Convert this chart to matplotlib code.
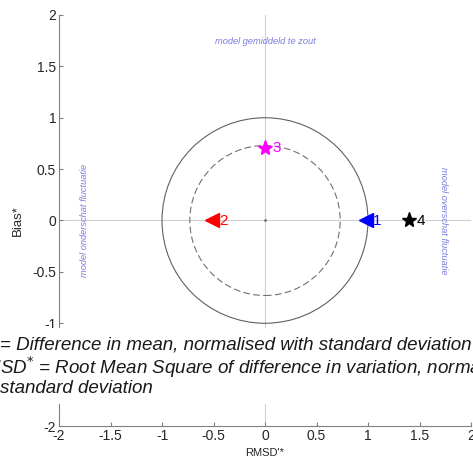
import numpy as np
import matplotlib.pyplot as plt
from matplotlib.patches import Circle, Rectangle

## Data
labels = ['1', '2', '3', '4']
rmsd = [0.98, -0.51, 0.0, 1.40]
bias = [0.0, 0.0, 0.71, 0.0]
markers = ['<', '<', '*', '*']
colors = ['blue', 'red', 'magenta', 'black']

circle_radii = [1.0, 0.73]
circle_styles = ['-', '--']

ticks = [-2, -1.5, -1, -0.5, 0, 0.5, 1, 1.5, 2]
tick_labels = ['-2', '-1.5', '-1', '-0.5', '0', '0.5', '1', '1.5', '2']

## Styles
plt.rcParams['font.family'] = ['Liberation Sans', 'DejaVu Sans']
grey = '#808080'
note_col = '#7b7be0'
note_size = 6.7
expl_size = 13.5

fig = plt.figure(figsize=(4.73, 4.61), dpi=100)
ax = fig.add_axes([59/473, 35/461, 412/473, 411/461])

ax.set_xlim(-2, 2)
ax.set_ylim(-2, 2)

# cross through origin
ax.axhline(0, color='#d0d0d0', lw=0.8, zorder=1)
ax.axvline(0, color='#d0d0d0', lw=0.8, zorder=1)
ax.plot(0, 0, '.', color='#707070', ms=2, zorder=2)

for r, ls in zip(circle_radii, circle_styles):
    ax.add_patch(Circle((0, 0), r, fill=False, ec='#606060' if ls == '-' else '#707070',
                        lw=0.8, ls=(0, (6, 3)) if ls == '--' else '-', zorder=2))

for x, y, m, c, lab in zip(rmsd, bias, markers, colors, labels):
    ax.plot(x, y, m, color=c, ms=10 if m == '<' else 11, zorder=3)
    ax.text(x + 0.07, y, lab, color=c, fontsize=11, va='center', ha='left', zorder=3)

# annotations
ax.text(0, 1.74, 'model gemiddeld te zout', color=note_col, fontsize=note_size,
        style='italic', ha='center', va='center')
ax.text(-1.75, 0, 'model onderschat fluctuatie', color=note_col, fontsize=note_size,
        style='italic', ha='center', va='center', rotation=90)
ax.text(1.73, 0, 'model overschat fluctuatie', color=note_col, fontsize=note_size,
        style='italic', ha='center', va='center', rotation=-90)

ax.set_xticks(ticks)
ax.set_xticklabels(tick_labels)
ax.set_yticks(ticks)
ax.set_yticklabels(tick_labels)
ax.tick_params(direction='in', length=3, color=grey, labelsize=10, labelcolor='#262626', pad=2)

for s in ['top', 'right']:
    ax.spines[s].set_visible(False)
for s in ['left', 'bottom']:
    ax.spines[s].set_color(grey)
    ax.spines[s].set_linewidth(0.8)

ax.set_xlabel("RMSD'*", fontsize=8, color='#262626', labelpad=4)
ax.set_ylabel('Bias*', fontsize=9.5, color='#262626', labelpad=6)

# white box with explanation text over the lower part
fig.patches.append(Rectangle((0, (461-404)/461), 1, 76/461, transform=fig.transFigure,
                             fc='white', ec='none', zorder=5))
fig.text(471/473, (461-345)/461, 'Bias* = Difference in mean, normalised with standard deviation',
         fontsize=expl_size, style='italic', ha='right', va='center', color='#1a1a1a', zorder=6)
fig.text(-29/473, (461-367)/461, 'RMSD$^{*}$ = Root Mean Square of difference in variation, normalised with',
         fontsize=expl_size, style='italic', ha='left', va='center', color='#1a1a1a', zorder=6)
fig.text(0, (461-388)/461, 'standard deviation',
         fontsize=expl_size, style='italic', ha='left', va='center', color='#1a1a1a', zorder=6)

plt.savefig('out.png', dpi=100)
